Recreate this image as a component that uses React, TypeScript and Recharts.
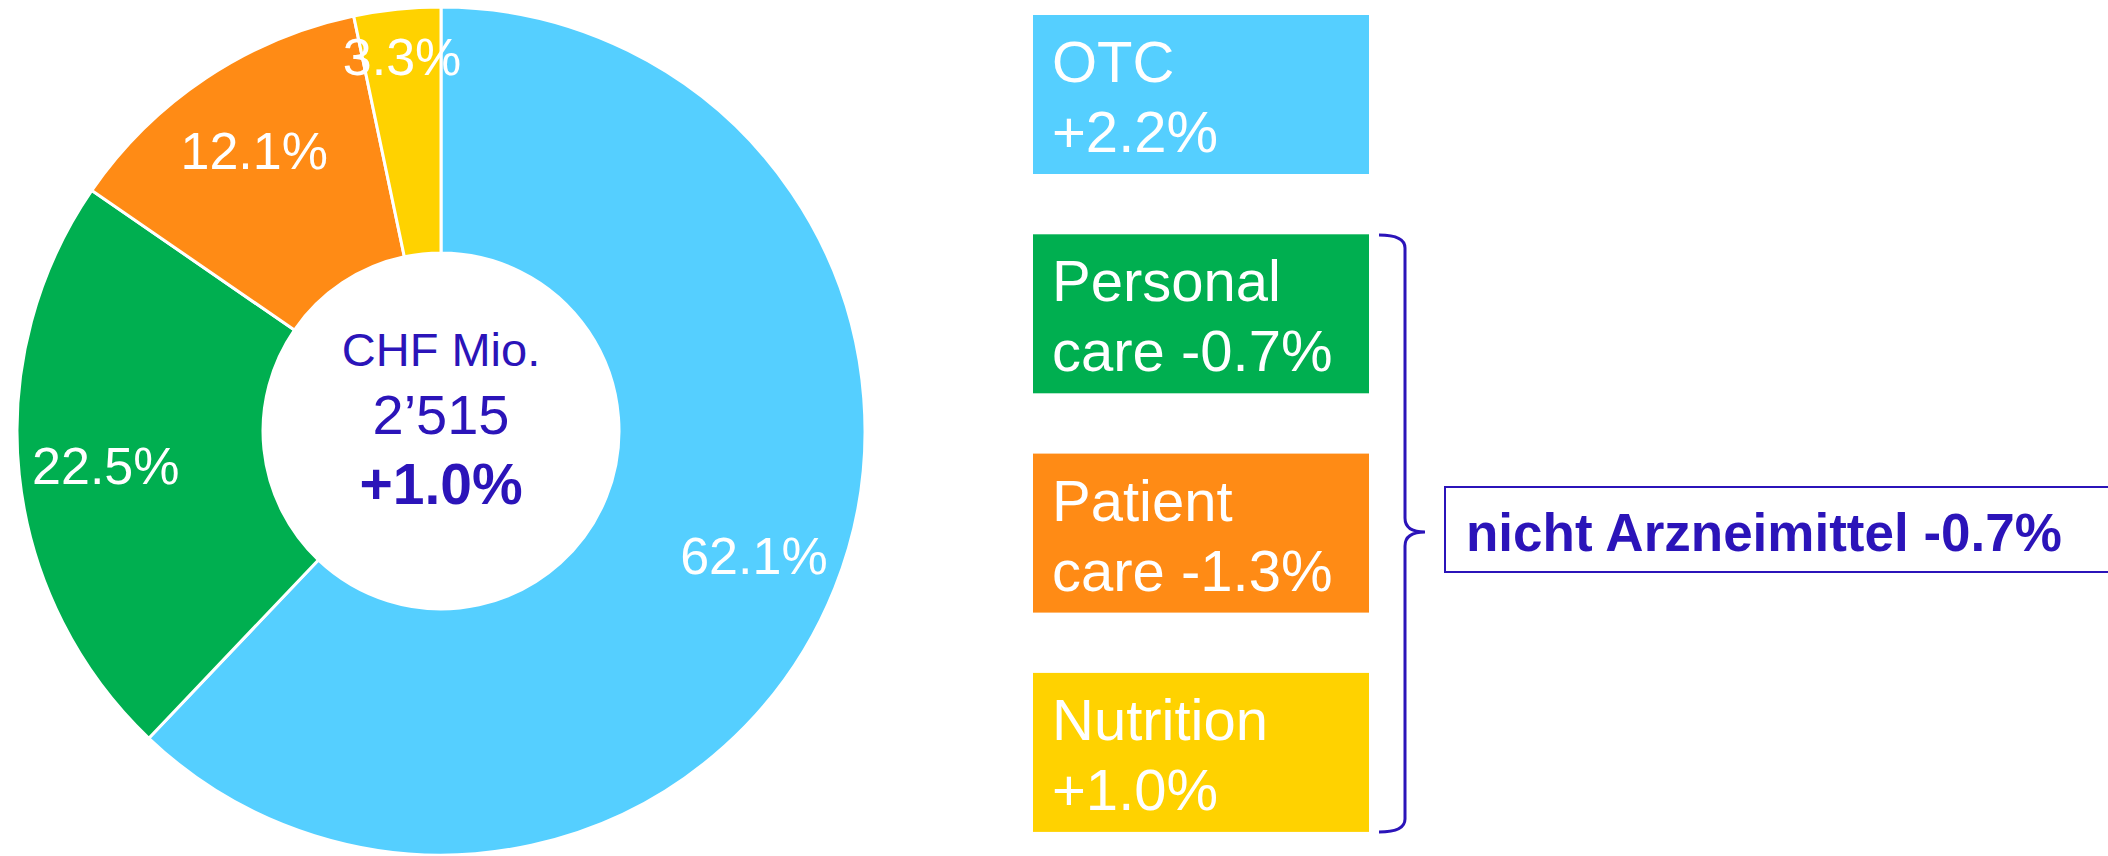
import { PieChart, Pie, Cell, Legend } from 'recharts'

// Segment shares of the non-prescription market (CHF Mio. 2'515)
const segments = ['OTC', 'Personal care', 'Patient care', 'Nutrition']
const shares = [62.1, 22.5, 12.1, 3.3]
const growth = ['+2.2%', '-0.7%', '-1.3%', '+1.0%']
const boxFirstLine = ['OTC', 'Personal', 'Patient', 'Nutrition']
const boxSecondLine = ['+2.2%', 'care -0.7%', 'care -1.3%', '+1.0%']
const colors = ['#55CFFF', '#00AF50', '#FF8B15', '#FFD200']

const totalUnit = 'CHF Mio.'
const totalValue = '2’515'
const totalChange = '+1.0%'
const groupLabel = 'nicht Arzneimittel'
const groupChange = '-0.7%'

const data = segments.map((name, i) => ({ name, value: shares[i], growth: growth[i] }))

const INK = '#2B14B9'
const FONT = '"Liberation Sans", Arial, sans-serif'
const RADIAN = Math.PI / 180

function SliceLabel(props: any) {
  const { cx, cy, midAngle, percent, index } = props
  // tiny slices get pushed out towards the rim
  const r = percent < 0.05 ? 376 : 337
  const x = cx + r * Math.cos(-midAngle * RADIAN)
  const y = cy + r * Math.sin(-midAngle * RADIAN)
  return (
    <g>
      <text
        x={x}
        y={y}
        fill="#FFFFFF"
        fontSize={52}
        fontFamily={FONT}
        textAnchor="middle"
        dominantBaseline="central"
      >
        {shares[index].toFixed(1)}%
      </text>
      {/* total in the donut hole, drawn once */}
      {index === 0 && (
        <g fontFamily={FONT} textAnchor="middle">
          <text x={cx} y={cy - 65} fontSize={47} fill={INK} textAnchor="middle">{totalUnit}</text>
          <text x={cx} y={cy + 3} fontSize={56} fill={INK} textAnchor="middle">{totalValue}</text>
          <text x={cx} y={cy + 73} fontSize={57} fontWeight="bold" fill={INK} textAnchor="middle">
            {totalChange}
          </text>
        </g>
      )}
    </g>
  )
}

// Coloured boxes on the right plus the brace grouping the non-OTC segments
function SegmentBoxes() {
  return (
    <svg width={1083} height={856} style={{ display: 'block' }}>
      {segments.map((name, i) => {
        const top = 15 + i * 219.3
        return (
          <g key={name}>
            <rect x={8} y={top} width={336} height={159} fill={colors[i]} />
            <text x={27} y={top + 67} fontSize={58} fontFamily={FONT} fill="#FFFFFF">
              {boxFirstLine[i]}
            </text>
            <text x={27} y={top + 137} fontSize={58} fontFamily={FONT} fill="#FFFFFF">
              {boxSecondLine[i]}
            </text>
          </g>
        )
      })}
      <path
        d="M 354 235 Q 380 235 380 248 L 380 518 Q 380 532 400 532 Q 380 532 380 546 L 380 819 Q 380 832 354 832"
        fill="none"
        stroke={INK}
        strokeWidth={3}
      />
      <rect x={420} y={487} width={700} height={85} fill="#FFFFFF" stroke={INK} strokeWidth={2} />
      <text x={441} y={551} fontSize={53} fontWeight="bold" fontFamily={FONT} fill={INK}>
        {groupLabel} {groupChange}
      </text>
    </svg>
  )
}

export default function App() {
  return (
    <div style={{ width: 2108, height: 856, background: '#FFFFFF', fontFamily: FONT }}>
      <style>{'body{margin:0}'}</style>
      <PieChart width={2108} height={856} margin={{ top: 0, right: 0, bottom: 0, left: 0 }}>
        <Pie
          data={data}
          dataKey="value"
          nameKey="name"
          cx={441}
          cy={431}
          innerRadius={178}
          outerRadius={424}
          startAngle={90}
          endAngle={-270}
          stroke="#FFFFFF"
          strokeWidth={3}
          label={SliceLabel}
          labelLine={false}
          isAnimationActive={false}
        >
          {data.map((d, i) => (
            <Cell key={d.name} fill={colors[i]} />
          ))}
        </Pie>
        <Legend
          content={SegmentBoxes}
          layout="vertical"
          align="right"
          verticalAlign="top"
          wrapperStyle={{ left: 1025, top: 0, width: 1083, height: 856 }}
        />
      </PieChart>
    </div>
  )
}
